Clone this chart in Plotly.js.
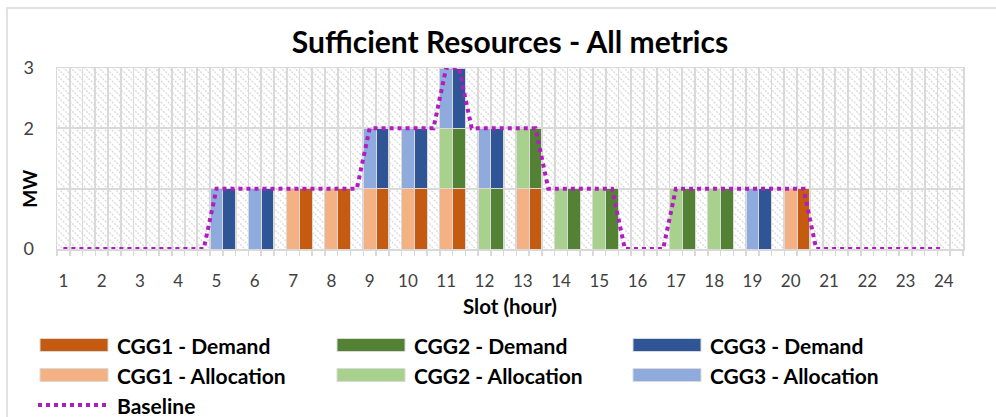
<!DOCTYPE html>
<html><head><meta charset="utf-8">
<script src="https://cdn.plot.ly/plotly-3.0.1.min.js"></script>
<style>html,body{margin:0;padding:0;background:#fff}#chart{width:996px;height:417px}</style>
</head><body><div id="chart"></div>
<script>
// ---- data ----
const slots = [1,2,3,4,5,6,7,8,9,10,11,12,13,14,15,16,17,18,19,20,21,22,23,24];
const cgg1Demand     = [0,0,0,0,0,0,1,1,1,1,1,0,1,0,0,0,0,0,0,1,0,0,0,0];
const cgg2Demand     = [0,0,0,0,0,0,0,0,0,0,1,1,1,1,1,0,1,1,0,0,0,0,0,0];
const cgg3Demand     = [0,0,0,0,1,1,0,0,1,1,1,1,0,0,0,0,0,0,1,0,0,0,0,0];
const cgg1Allocation = [0,0,0,0,0,0,1,1,1,1,1,0,1,0,0,0,0,0,0,1,0,0,0,0];
const cgg2Allocation = [0,0,0,0,0,0,0,0,0,0,1,1,1,1,1,0,1,1,0,0,0,0,0,0];
const cgg3Allocation = [0,0,0,0,1,1,0,0,1,1,1,1,0,0,0,0,0,0,1,0,0,0,0,0];
const baseline       = [0,0,0,0,1,1,1,1,2,2,3,2,2,1,1,0,1,1,1,1,0,0,0,0];
const seriesNames = ['CGG1 - Demand','CGG2 - Demand','CGG3 - Demand','CGG1 - Allocation','CGG2 - Allocation','CGG3 - Allocation','Baseline'];
const yTickVals = [0,1,2,3];
const yTickText = ['0','','2','3'];

// ---- styles ----
const colors = {
  'CGG1 - Demand':'#C55A11','CGG2 - Demand':'#548235','CGG3 - Demand':'#2F5597',
  'CGG1 - Allocation':'#F4B183','CGG2 - Allocation':'#A9D18E','CGG3 - Allocation':'#8FAADC',
  'Baseline':'#B11CC0'
};
const FONT = 'Lato, "Open Sans", sans-serif';
const GRID = '#D9D9D9';
const L = 57, R = 963, T = 68, B = 249;
const fx = px => (px - L) / (R - L);
const fy = py => (B - py) / (B - T);

// each slot: allocation category, demand category, empty category
const allocX  = slots.map((s, i) => 3 * i);
const demandX = slots.map((s, i) => 3 * i + 1);
const nz = a => a.map(v => v === 0 ? null : v);

function barTrace(name, xs, ys) {
  return {type:'bar', name, x: xs, y: nz(ys), width: 1, showlegend:false,
    marker:{color: colors[name], line:{color: GRID, width: 1}}, hoverinfo:'x+y+name'};
}
const traces = [
  barTrace('CGG1 - Demand', demandX, cgg1Demand),
  barTrace('CGG2 - Demand', demandX, cgg2Demand),
  barTrace('CGG3 - Demand', demandX, cgg3Demand),
  barTrace('CGG1 - Allocation', allocX, cgg1Allocation),
  barTrace('CGG2 - Allocation', allocX, cgg2Allocation),
  barTrace('CGG3 - Allocation', allocX, cgg3Allocation),
];
// baseline: held over allocation+demand categories, steps at the gap category
const blX = [], blY = [];
baseline.forEach((v, i) => {
  blX.push(3 * i); blY.push(v);
  if (i < baseline.length - 1) {
    blX.push(3 * i + 1); blY.push(v);
    blX.push(3 * i + 2); blY.push(Math.min(v, baseline[i + 1]));
  }
});
traces.push({type:'scatter', mode:'lines', name:'Baseline', x: blX, y: blY, showlegend:false,
  line:{color: colors['Baseline'], width: 4, dash:'dot'}});

// hatch background
const hatch = 'data:image/svg+xml;utf8,' + encodeURIComponent(
 '<svg xmlns="http://www.w3.org/2000/svg" width="906" height="181" viewBox="0 0 906 181" preserveAspectRatio="none">' +
 '<defs><pattern id="p" width="7" height="7" patternUnits="userSpaceOnUse">' +
 '<path d="M-1,-1 L8,8 M-8,-1 L1,8 M6,-1 L15,8" stroke="#DCDCDC" stroke-width="1.4" stroke-dasharray="2,1.2"/></pattern></defs>' +
 '<rect width="906" height="181" fill="#FFFFFF"/><rect width="906" height="181" fill="url(#p)"/></svg>');

// manual legend
const shapes = [
  {type:'rect', xref:'paper', yref:'paper', x0: fx(7), x1: fx(1100), y0: fy(8), y1: fy(600),
   line:{color:'#D9D9D9', width:1.5}, fillcolor:'rgba(0,0,0,0)', layer:'below'}
];
const annotations = [];
const cols = [40, 337, 633];
const rows = [345, 375];
const legendFont = {family: FONT, size: 21, color:'#000', weight: 700};
seriesNames.slice(0, 6).forEach((n, i) => {
  const c = cols[i % 3], r = rows[Math.floor(i / 3)];
  shapes.push({type:'rect', xref:'paper', yref:'paper', x0: fx(c), x1: fx(c + 68), y0: fy(r - 6.5), y1: fy(r + 6.5),
    fillcolor: colors[n], line:{color: GRID, width: 1}});
  annotations.push({xref:'paper', yref:'paper', x: fx(c + 75), y: fy(r), xanchor:'left', yanchor:'middle',
    text: n, showarrow:false, font: legendFont});
});
shapes.push({type:'line', xref:'paper', yref:'paper', x0: fx(38), x1: fx(110), y0: fy(405), y1: fy(405),
  line:{color: colors['Baseline'], width: 4, dash:'dot'}});
annotations.push({xref:'paper', yref:'paper', x: fx(115), y: fy(405), xanchor:'left', yanchor:'middle',
  text: seriesNames[6], showarrow:false, font: legendFont});
// axis titles
annotations.push({xref:'paper', yref:'paper', x: fx(510), y: fy(306), xanchor:'center', yanchor:'middle',
  text:'Slot (hour)', showarrow:false, font:{family: FONT, size: 20.5, color:'#000', weight: 700}});
annotations.push({xref:'paper', yref:'y', x: fx(30), y: 1, xanchor:'center', yanchor:'middle', textangle:-90,
  text:'MW', showarrow:false, font:{family: FONT, size: 19, color:'#000', weight: 700}});

const layout = {
  width: 996, height: 417,
  margin:{l: L, r: 996 - R, t: T, b: 417 - B, pad: 0},
  paper_bgcolor:'#FFFFFF', plot_bgcolor:'#FFFFFF',
  barmode:'stack',
  showlegend:false,
  title:{text:'Sufficient Resources - All metrics', x: fx(510), xref:'paper', xanchor:'center',
    y: 1 - 42/417, yref:'container', yanchor:'middle',
    font:{family: FONT, size: 30, color:'#000', weight: 700}},
  font:{family: FONT, color:'#404040'},
  xaxis:{range:[-0.5, 70.5], tickmode:'array', tickvals: allocX, ticktext: slots.map(String),
    showgrid:false, zeroline:false, ticks:'', ticklabelstandoff: 16,
    tickfont:{family: FONT, size: 17, color:'#404040'},
    showline:true, linecolor: GRID, linewidth:1.5, mirror:true,
    minor:{tickmode:'linear', tick0:0.5, dtick:1, showgrid:true, gridcolor: GRID, gridwidth:1.8,
      ticks:'outside', ticklen:5, tickcolor: GRID, tickwidth:1.5}},
  yaxis:{range:[0, 3], tickmode:'array', tickvals: yTickVals, ticktext: yTickText,
    showgrid:true, gridcolor: GRID, gridwidth:1.8, zeroline:false, ticks:'', ticklabelstandoff: 18,
    tickfont:{family: FONT, size: 18, color:'#404040'},
    showline:true, linecolor: GRID, linewidth:1.5, mirror:true},
  images:[{source: hatch, xref:'paper', yref:'paper', x:0, y:1, sizex:1, sizey:1,
    sizing:'stretch', layer:'below', xanchor:'left', yanchor:'top'}],
  shapes, annotations
};
Plotly.newPlot('chart', traces, layout, {displayModeBar:false, staticPlot:true});
</script></body></html>
